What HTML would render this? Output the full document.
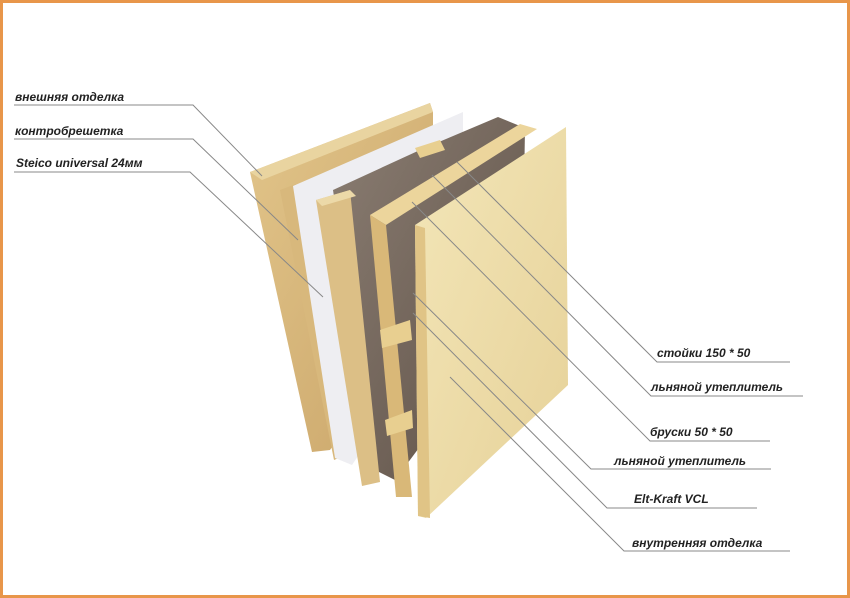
<!DOCTYPE html>
<html><head><meta charset="utf-8"><style>
html,body{margin:0;padding:0;background:#fff}
.f{position:absolute;left:0;top:0;width:844px;height:592px;border:3px solid #e8964a;background:#fff}
svg{position:absolute;left:0;top:0}
text{font-family:"Liberation Sans",sans-serif;font-style:italic;font-weight:bold;font-size:12px;fill:#222}
</style></head><body>
<div class="f"></div>
<svg width="850" height="598" viewBox="0 0 850 598">
<defs>
<linearGradient id="w" x1="0" y1="0" x2="1" y2="1"><stop offset="0" stop-color="#e2c58a"/><stop offset="1" stop-color="#c9a468"/></linearGradient>
<linearGradient id="p" x1="0" y1="0" x2="1" y2="1"><stop offset="0" stop-color="#f3e6b8"/><stop offset="1" stop-color="#e6d198"/></linearGradient>
<linearGradient id="ins" x1="0" y1="0" x2="1" y2="1"><stop offset="0" stop-color="#8a7d72"/><stop offset="1" stop-color="#5e5046"/></linearGradient>
</defs>
<polygon points="250,172 430,103 433,112 433,300 330,450 312,452" fill="url(#w)"/>
<polygon points="250,172 430,103 433,112 262,180" fill="#e9d4a0"/>
<polygon points="280,190 296,184 346,455 334,460" fill="#d8b87c"/>
<polygon points="293,186 463,112 463,300 352,465 335,458" fill="#eeeef2"/>
<polygon points="333,190 420,150 498,117 525,128 522,310 395,480 375,470" fill="url(#ins)"/>
<polygon points="415,148 440,140 445,150 420,158" fill="#e8cf90"/>
<polygon points="316,200 350,190 380,482 362,486" fill="#dcbf86"/>
<polygon points="316,200 350,190 356,196 322,206" fill="#ecd9a8"/>
<polygon points="370,215 520,124 537,129 386,225" fill="#ecd59c"/>
<polygon points="370,215 386,225 412,497 396,497" fill="#d9b878"/>
<polygon points="380,330 410,320 412,340 382,348" fill="#e8cf90"/>
<polygon points="385,420 412,410 413,428 387,436" fill="#e8cf90"/>
<polygon points="415,225 566,127 568,385 426,518 418,516" fill="url(#p)"/>
<polygon points="415,225 425,228 430,518 418,516" fill="#e0c486"/>
<g stroke="#888" stroke-width="1" fill="none">
<polyline points="14,105 193,105 262,176"/>
<polyline points="14,139 193,139 298,240"/>
<polyline points="14,172 190,172 323,297"/>
<polyline points="457,162 657,362 790,362"/>
<polyline points="432,175 651,396 803,396"/>
<polyline points="412,202 650,441 770,441"/>
<polyline points="413,293 591,469 771,469"/>
<polyline points="413,313 607,508 757,508"/>
<polyline points="450,377 624,551 790,551"/>
</g>
<text x="15" y="101">внешняя отделка</text>
<text x="15" y="135">контробрешетка</text>
<text x="16" y="167">Steico universal 24мм</text>
<text x="657" y="357">стойки 150 * 50</text>
<text x="651" y="391">льняной утеплитель</text>
<text x="650" y="436">бруски 50 * 50</text>
<text x="614" y="465">льняной утеплитель</text>
<text x="634" y="503">Elt-Kraft VCL</text>
<text x="632" y="547">внутренняя отделка</text>
</svg>
</body></html>
